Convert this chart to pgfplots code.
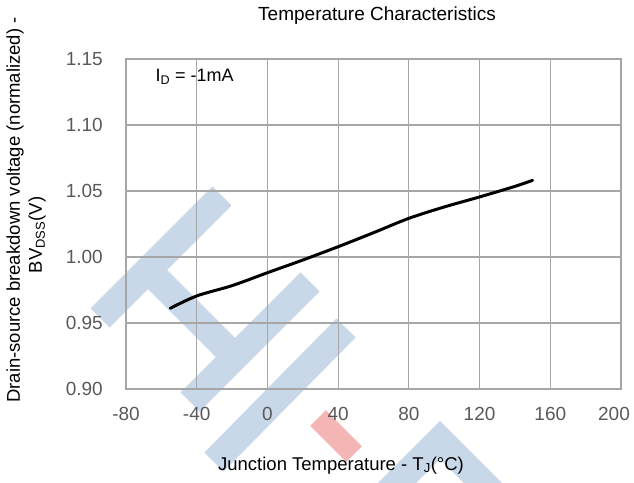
\documentclass[border=0pt]{standalone}
\usepackage{fontspec}
\setmainfont{Liberation Sans}
\usepackage{pgfplots}
\pgfplotsset{compat=1.18}
\definecolor{gridc}{HTML}{A6A6A6}
\definecolor{tickc}{HTML}{595959}
\definecolor{wmblue}{RGB}{155,184,214}
\definecolor{wmred}{RGB}{235,120,120}

\begin{document}
\begin{tikzpicture}
\path[use as bounding box] (0,0) rectangle (634pt,482pt);

% watermark, behind the chart
\begin{scope}[shift={(0,482pt)}, x=1pt, y=-1pt, transparency group, opacity=0.55]
  \draw[wmblue, line width=27pt] (100,318) -- (222,196);
  \draw[wmblue, line width=27pt] (148,270) -- (236,358);
  \draw[wmblue, line width=27pt] (190,402) -- (310,282);
  \draw[wmblue, line width=27pt] (346,328) -- (214,462);
  \draw[wmblue, line width=27pt, line join=miter] (385,495) -- (440,440) -- (495,495);
  \draw[wmred, line width=22pt] (318,418) -- (354,454);
\end{scope}

\begin{axis}[
  at={(126pt,93pt)}, anchor=south west,
  scale only axis, width=495pt, height=330pt,
  xmin=-80, xmax=200, ymin=0.9, ymax=1.15,
  xtick={-80,-40,0,40,80,120,160,200},
  xticklabels={-80,-40,0,40,80,120,160,\hspace*{-14pt}200},
  ytick={0.9,0.95,1.0,1.05,1.1,1.15},
  yticklabels={0.90,0.95,1.00,1.05,1.10,1.15},
  grid=major, major grid style={gridc, line width=1.2pt},
  axis line style={gridc, line width=1.2pt},
  tick style={draw=none},
  ticklabel style={font=\fontsize{19}{22}\selectfont, text=tickc, inner sep=0pt},
  xticklabel style={yshift=-18pt},
  yticklabel style={xshift=-23pt},
]
  % normalized BVdss vs Tj
  \addplot[black, line width=3pt, smooth, line cap=round] coordinates {
    (-55, 0.9611) (-40, 0.9705) (-20, 0.9783) (0, 0.9881) (20, 0.9977)
    (40, 1.0078) (60, 1.0184) (80, 1.0293) (100, 1.0379) (120, 1.0455)
    (140, 1.0535) (150, 1.0581)
  };
\end{axis}

% labels
\node[anchor=base west, font=\fontsize{18}{21}\selectfont] at (152pt,400pt) {I\textsubscript{D} = -1mA};
\node[anchor=base, font=\fontsize{18.5}{22}\selectfont] at (341pt,12pt) {Junction Temperature - T\textsubscript{J}(°C)};
\node[rotate=90, font=\fontsize{18.5}{22}\selectfont] at (15pt,272pt) {Drain-source breakdown voltage (normalized) -};
\node[rotate=90, font=\fontsize{18.5}{22}\selectfont] at (37pt,247pt) {BV\textsubscript{DSS}(V)};
\node[font=\fontsize{19}{22}\selectfont] at (377pt,466pt) {Temperature Characteristics};
\end{tikzpicture}
\end{document}
